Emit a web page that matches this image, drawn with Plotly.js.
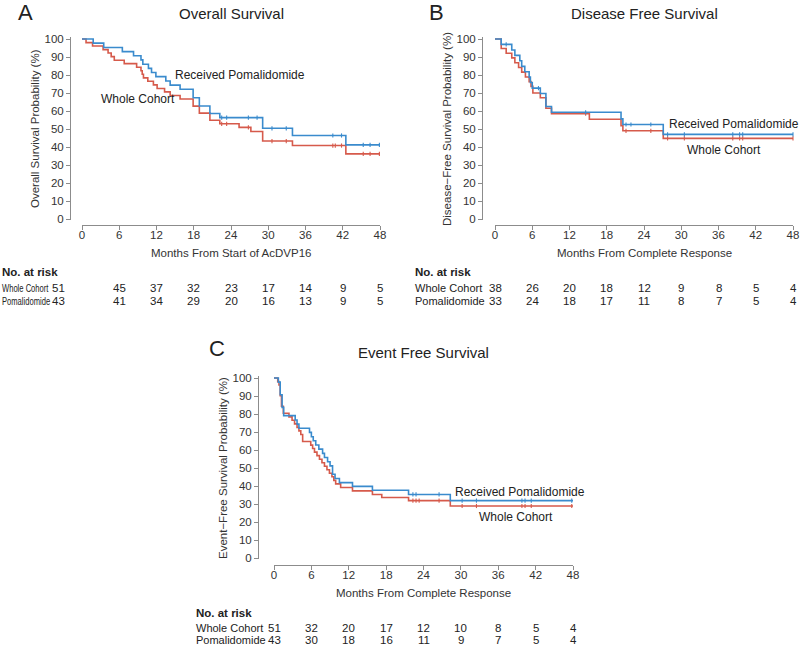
<!DOCTYPE html>
<html><head><meta charset="utf-8">
<script src="https://cdn.plot.ly/plotly-3.0.1.min.js"></script>
<style>body{margin:0;background:#fff}#chart{width:800px;height:647px}</style>
</head><body><div id="chart"></div>
<script>
// ---------- data ----------
const monthTicks = [0, 6, 12, 18, 24, 30, 36, 42, 48];
const survTicks = [0, 10, 20, 30, 40, 50, 60, 70, 80, 90, 100];
const seriesNames = ["Whole Cohort", "Received Pomalidomide"];
const riskRowLabels = ["Whole Cohort", "Pomalidomide"];

// A: Overall survival (event times, survival % after each event, censor times)
const osWholeT = [0.65, 1.7, 3.4, 4.2, 4.7, 5.2, 6.8, 8.8, 9.5, 9.7, 9.9, 10.6, 11.5, 12.1, 13.3, 14.2, 15.8, 17.9, 18.9, 20.6, 22.2, 25.3, 27.2, 29.1, 33.9, 42.5];
const osWholeS = [98.0, 96.1, 94.1, 92.2, 90.2, 88.2, 86.3, 84.3, 82.4, 80.4, 78.4, 76.5, 74.5, 72.5, 70.6, 68.6, 66.7, 62.7, 58.8, 54.9, 52.9, 50.9, 48.6, 43.3, 40.8, 36.2];
const osWholeCens = [22.5, 23.3, 26.8, 30.6, 32.9, 40.4, 40.8, 41.8, 45.3, 46.4, 47.9];
const osPomT = [1.8, 3.5, 6.5, 8.3, 9.5, 9.8, 10.7, 11.2, 11.9, 13.5, 14.2, 15.8, 17.9, 18.9, 20.6, 22.2, 29.1, 33.9, 42.5];
const osPomS = [97.7, 95.3, 93.0, 90.7, 88.4, 86.0, 83.7, 81.4, 79.1, 76.7, 74.4, 72.1, 67.4, 62.8, 58.6, 56.3, 50.4, 46.4, 41.2];
const osPomCens = [22.5, 23.3, 26.8, 28.2, 30.6, 32.9, 40.4, 41.8, 45.3, 46.4, 47.9];
const osRiskWhole = [51, 45, 37, 32, 23, 17, 14, 9, 5];
const osRiskPom = [43, 41, 34, 29, 20, 16, 13, 9, 5];

// B: Disease free survival
const dfsWholeT = [1.0, 1.8, 2.7, 3.2, 3.8, 4.3, 4.9, 5.5, 5.8, 6.1, 7.3, 8.2, 9.1, 15.2, 20.3, 20.6, 27.1];
const dfsWholeS = [94.7, 92.1, 89.5, 86.8, 84.2, 81.6, 78.9, 76.3, 73.7, 70.0, 67.4, 61.5, 58.5, 55.4, 51.8, 49.0, 44.8];
const dfsWholeCens = [14.6, 21.1, 25.1, 27.8, 30.5, 38.3, 39.4, 39.9, 48];
const dfsPomT = [1.0, 2.7, 3.2, 4.0, 4.3, 4.8, 5.5, 5.7, 6.0, 7.3, 8.2, 9.1, 20.3, 20.6, 27.1];
const dfsPomS = [97.0, 93.9, 90.9, 87.9, 84.8, 81.8, 78.8, 75.8, 72.7, 69.7, 62.5, 59.3, 55.6, 52.5, 47.0];
const dfsPomCens = [1.8, 7.0, 14.6, 21.1, 21.9, 25.1, 27.8, 30.5, 38.3, 39.4, 39.9, 48];
const dfsRiskWhole = [38, 26, 20, 18, 12, 9, 8, 5, 4];
const dfsRiskPom = [33, 24, 18, 17, 11, 8, 7, 5, 4];

// C: Event free survival
const efsWholeT = [0.6, 0.8, 1.0, 1.2, 1.5, 2.4, 2.9, 3.3, 3.7, 4.0, 4.3, 4.6, 5.9, 6.2, 6.5, 6.9, 7.3, 7.7, 8.1, 8.5, 8.9, 9.3, 9.6, 9.9, 10.7, 12.6, 15.8, 17.3, 21.6, 28.3];
const efsWholeS = [98.0, 96.1, 90.2, 84.3, 80.4, 78.4, 76.5, 74.5, 72.5, 70.6, 68.6, 64.7, 62.7, 60.8, 58.8, 56.9, 54.9, 52.9, 51.0, 49.0, 47.1, 45.1, 43.1, 41.2, 39.2, 37.3, 35.3, 33.6, 31.9, 28.9];
const efsWholeCens = [22.3, 22.8, 23.3, 26.5, 30.2, 32.5, 39.8, 40.3, 41.3, 47.8];
const efsPomT = [0.7, 1.0, 1.3, 1.55, 3.4, 3.7, 4.0, 5.7, 6.0, 6.3, 6.7, 7.2, 7.8, 8.1, 8.6, 9.0, 9.4, 9.8, 10.5, 12.6, 15.8, 21.6, 28.3];
const efsPomS = [97.7, 90.7, 83.7, 79.1, 76.7, 74.4, 72.1, 69.8, 67.4, 65.1, 62.8, 60.5, 58.1, 55.8, 53.5, 51.2, 46.5, 44.2, 41.9, 39.8, 37.6, 35.3, 31.9];
const efsPomCens = [22.3, 22.8, 26.5, 30.2, 32.5, 39.8, 40.3, 41.3, 47.8];
const efsRiskWhole = [51, 32, 20, 17, 12, 10, 8, 5, 4];
const efsRiskPom = [43, 30, 18, 16, 11, 9, 7, 5, 4];

// ---------- styling / layout ----------
const W = 800, H = 647;
const RED = "#d65a4b", BLUE = "#3a8bcd";
const FONT = "Liberation Sans, Arial, Helvetica, sans-serif";
const TXT = "#222";
const AX = "#8c8c8c";

const panels = [
  {key: "A", title: "Overall Survival", ytitle: "Overall Survival Probability (%)", xtitle: "Months From Start of AcDVP16",
   whole: [osWholeT, osWholeS, osWholeCens], pom: [osPomT, osPomS, osPomCens], risk: [osRiskWhole, osRiskPom],
   x0: 82, x1: 380, yTop: 39, yBot: 219, yAxisX: 70, xAxisY: 225, letterX: 25, letterY: 12, titleY: 13,
   ytitleX: 35, tableX: 0, firstRiskX: 58.5, rowY: [272, 288, 301], rowFontSize: 7.6, stretchY: 1.42,
   pomLab: [14.7, 80], wholeLab: [2.7, 66.7]},
  {key: "B", title: "Disease Free Survival", ytitle: "Disease\u2212Free Survival Probability (%)", xtitle: "Months From Complete Response",
   whole: [dfsWholeT, dfsWholeS, dfsWholeCens], pom: [dfsPomT, dfsPomS, dfsPomCens], risk: [dfsRiskWhole, dfsRiskPom],
   x0: 495, x1: 793, yTop: 39, yBot: 219, yAxisX: 482, xAxisY: 225, letterX: 436, letterY: 12, titleY: 13,
   ytitleX: 447, tableX: 413, firstRiskX: null, rowY: [272, 288, 301], rowFontSize: 11, stretchY: null,
   pomLab: [27.7, 52.8], wholeLab: [30.6, 38.3]},
  {key: "C", title: "Event Free Survival", ytitle: "Event\u2212Free Survival Probability (%)", xtitle: "Months From Complete Response",
   whole: [efsWholeT, efsWholeS, efsWholeCens], pom: [efsPomT, efsPomS, efsPomCens], risk: [efsRiskWhole, efsRiskPom],
   x0: 274, x1: 573, yTop: 378, yBot: 558, yAxisX: 258, xAxisY: 565, letterX: 217, letterY: 348, titleY: 352,
   ytitleX: 223, tableX: 194, firstRiskX: null, rowY: [613, 628, 640], rowFontSize: 11, stretchY: null,
   pomLab: [28.7, 36.7], wholeLab: [32.6, 22.8]}
];

const YLO = -0.7, YHI = 100.9;
const px = x => x / W;
const py = y => 1 - y / H;

function stepLevel(times, levels, t) {
  let s = 100;
  for (let i = 0; i < times.length; i++) if (times[i] <= t) s = levels[i];
  return s;
}

const traces = [];
const annotations = [];
const stretchList = []; // [annotation index, vertical stretch]
const layout = {
  width: W, height: H, margin: {l: 0, r: 0, t: 0, b: 0},
  paper_bgcolor: "#fff", plot_bgcolor: "rgba(0,0,0,0)",
  showlegend: false, font: {family: FONT, color: TXT, size: 12},
  annotations: annotations
};

panels.forEach((p, i) => {
  const n = i === 0 ? "" : String(i + 1);
  const xa = "x" + n, ya = "y" + n;
  const pxPerUnit = (p.yBot - p.yTop) / 100;
  const yLoPx = p.yBot - YLO * pxPerUnit, yHiPx = p.yBot - YHI * pxPerUnit;
  layout["xaxis" + n] = {
    domain: [px(p.x0), px(p.x1)], range: [0, 48], anchor: "free", position: py(p.xAxisY),
    tickvals: monthTicks, ticktext: monthTicks.map(String), ticks: "outside", ticklen: 4, tickcolor: AX, tickwidth: 1,
    ticklabelstandoff: -5,
    showline: true, linecolor: AX, linewidth: 1, showgrid: false, zeroline: false,
    tickfont: {family: FONT, size: 11.5, color: "#333"}, fixedrange: true
  };
  layout["yaxis" + n] = {
    domain: [py(yLoPx), py(yHiPx)], range: [YLO, YHI], anchor: "free", position: px(p.yAxisX),
    tickvals: survTicks, ticktext: survTicks.map(String), ticks: "outside", ticklen: 4, tickcolor: AX, tickwidth: 1,
    showline: true, linecolor: AX, linewidth: 1, showgrid: false, zeroline: false,
    tickfont: {family: FONT, size: 11.5, color: "#333"}, fixedrange: true
  };

  [[p.whole, RED, seriesNames[0]], [p.pom, BLUE, seriesNames[1]]].forEach(([d, col, name]) => {
    const [t, s, c] = d;
    traces.push({
      type: "scatter", mode: "lines", name: name, xaxis: xa, yaxis: ya,
      x: [0].concat(t, [48]), y: [100].concat(s, [s[s.length - 1]]),
      line: {shape: "hv", color: col, width: 1.6}, hoverinfo: "skip"
    });
    traces.push({
      type: "scatter", mode: "markers", name: name + " (censored)", xaxis: xa, yaxis: ya, cliponaxis: false,
      x: c, y: c.map(v => stepLevel(t, s, v)),
      marker: {symbol: "line-ns-open", size: 3, color: col, line: {color: col, width: 1.1}}, hoverinfo: "skip"
    });
  });

  annotations.push({text: p.key, xref: "paper", yref: "paper", x: px(p.letterX), y: py(p.letterY),
    xanchor: "center", yanchor: "middle", showarrow: false, font: {family: FONT, size: 22, color: TXT}});
  annotations.push({text: p.title, xref: "paper", yref: "paper", x: px((p.x0 + p.x1) / 2), y: py(p.titleY),
    xanchor: "center", yanchor: "middle", showarrow: false, font: {family: FONT, size: 15, color: TXT}});
  annotations.push({text: p.ytitle, xref: "paper", yref: "paper", x: px(p.ytitleX), y: py((p.yTop + p.yBot) / 2),
    xanchor: "center", yanchor: "middle", textangle: -90, showarrow: false, font: {family: FONT, size: 11.5, color: "#333"}});
  annotations.push({text: p.xtitle, xref: "paper", yref: "paper", x: px((p.x0 + p.x1) / 2), y: py(p.xAxisY + 28),
    xanchor: "center", yanchor: "middle", showarrow: false, font: {family: FONT, size: 11.5, color: "#333"}});
  annotations.push({text: seriesNames[1], xref: xa, yref: ya, x: p.pomLab[0], y: p.pomLab[1],
    xanchor: "left", yanchor: "middle", showarrow: false, font: {family: FONT, size: 12, color: TXT}});
  annotations.push({text: seriesNames[0], xref: xa, yref: ya, x: p.wholeLab[0], y: p.wholeLab[1],
    xanchor: "left", yanchor: "middle", showarrow: false, font: {family: FONT, size: 12, color: TXT}});
  annotations.push({text: "<b>No. at risk</b>", xref: "paper", yref: "paper", x: px(p.tableX), y: py(p.rowY[0]),
    xanchor: "left", yanchor: "middle", showarrow: false, font: {family: FONT, size: 11.5, color: TXT}});
  p.risk.forEach((row, r) => {
    const yy = py(p.rowY[r + 1]);
    if (p.stretchY) stretchList.push([annotations.length, p.stretchY]);
    annotations.push({text: riskRowLabels[r], xref: "paper", yref: "paper", x: px(p.tableX), y: yy,
      xanchor: "left", yanchor: "middle", showarrow: false, font: {family: FONT, size: p.rowFontSize, color: TXT}});
    row.forEach((v, k) => {
      const useShift = k === 0 && p.firstRiskX !== null;
      annotations.push({text: String(v), xref: useShift ? "paper" : xa, yref: "paper",
        x: useShift ? px(p.firstRiskX) : monthTicks[k], y: yy,
        xanchor: "center", yanchor: "middle", showarrow: false, font: {family: FONT, size: 11.5, color: TXT}});
    });
  });
});

Plotly.newPlot("chart", traces, layout, {staticPlot: true, displayModeBar: false}).then(gd => {
  // panel A's row labels are a condensed face in the original: keep the narrow width, restore the letter height
  stretchList.forEach(([idx, k]) => {
    const g = gd.querySelector('.annotation[data-index="' + idx + '"]');
    if (!g) return;
    const t = g.querySelector("text.annotation-text");
    if (!t) return;
    const bb = t.getBBox();
    const cy = bb.y + bb.height / 2;
    const prev = t.getAttribute("transform") || "";
    t.setAttribute("transform", prev + " translate(0," + cy + ") scale(1," + k + ") translate(0," + (-cy) + ")");
  });
});
</script>
</body></html>
